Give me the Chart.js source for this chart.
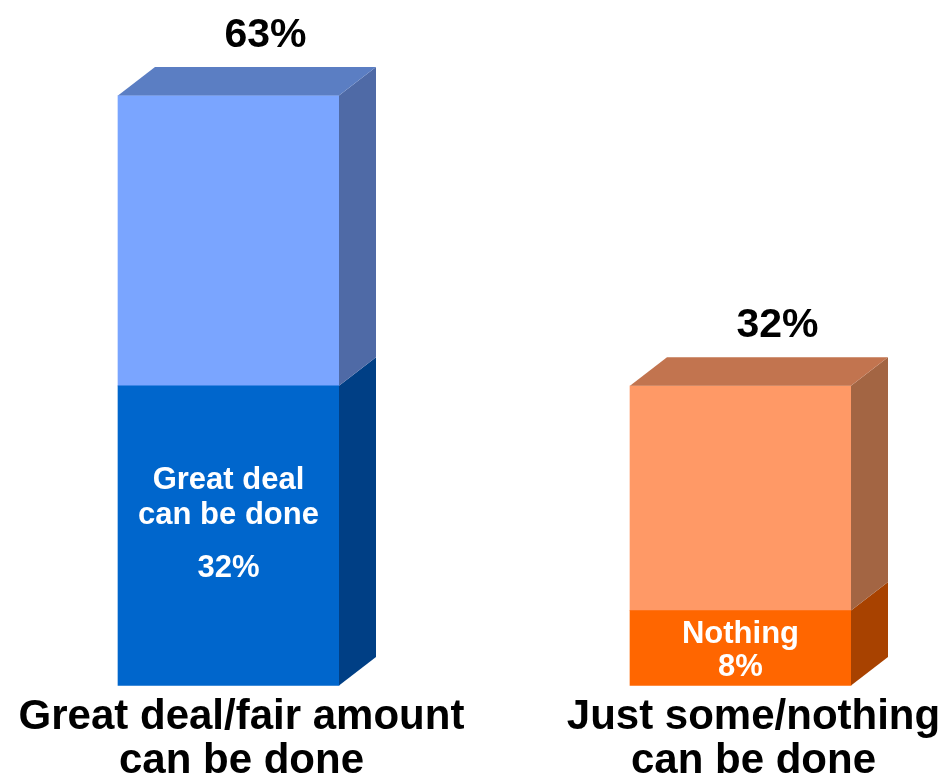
<!DOCTYPE html>
<html lang="en">
<head>
    <meta charset="UTF-8">
    <title>Can be done - 3D stacked bars</title>
    <script src="https://cdn.jsdelivr.net/npm/chart.js"></script>
    <style>
        body {
            margin: 0;
            padding: 0;
            background-color: #ffffff;
        }

        .chart-container {
            position: relative;
            width: 947px;
            height: 775px;
        }
    </style>
</head>
<body>

    <div class="chart-container">
        <canvas id="doneChart"></canvas>
    </div>

    <script>
        // Values (percent)
        const categories = [
            ['Great deal/fair amount', 'can be done'],
            ['Just some/nothing', 'can be done']
        ];
        const baseValues = [32, 8];      // Great deal / Nothing
        const upperValues = [31, 24];    // rest of each bar
        const baseNames = [['Great deal', 'can be done'], ['Nothing']];

        const totals = baseValues.map((v, i) => v + upperValues[i]);

        const FONT = "'Liberation Sans', Arial, sans-serif";
        const DX = 37, DY = 28.5;   // depth of the 3D bars

        // front / side / top colours per segment and bar
        const faces = [
            { front: ['#0066CC', '#FF6600'], side: ['#003F85', '#A84200'] },
            { front: ['#7AA5FF', '#FF9966'], side: ['#4F6AA6', '#A36543'], top: ['#5B7EC3', '#C2744F'] }
        ];

        const bar3d = {
            id: 'bar3d',
            afterDatasetsDraw(chart) {
                const ctx = chart.ctx;
                ctx.save();
                chart.data.datasets.forEach((ds, di) => {
                    const meta = chart.getDatasetMeta(di);
                    meta.data.forEach((bar, i) => {
                        const p = bar.getProps(['x', 'y', 'base', 'width'], true);
                        const left = p.x - p.width / 2;
                        const right = p.x + p.width / 2;
                        // side face
                        ctx.fillStyle = faces[di].side[i];
                        ctx.beginPath();
                        ctx.moveTo(right, p.base);
                        ctx.lineTo(right + DX, p.base - DY);
                        ctx.lineTo(right + DX, p.y - DY);
                        ctx.lineTo(right, p.y);
                        ctx.closePath();
                        ctx.fill();
                        // top face on the highest segment
                        if (faces[di].top) {
                            ctx.fillStyle = faces[di].top[i];
                            ctx.beginPath();
                            ctx.moveTo(left, p.y);
                            ctx.lineTo(left + DX, p.y - DY);
                            ctx.lineTo(right + DX, p.y - DY);
                            ctx.lineTo(right, p.y);
                            ctx.closePath();
                            ctx.fill();

                            // total above the bar
                            ctx.fillStyle = '#000000';
                            ctx.font = 'bold 41px ' + FONT;
                            ctx.textAlign = 'center';
                            ctx.textBaseline = 'alphabetic';
                            ctx.fillText(totals[i] + '%', p.x + DX, p.y - 49);
                        }
                    });
                });

                // labels inside the bottom segment
                const baseMeta = chart.getDatasetMeta(0);
                baseMeta.data.forEach((bar, i) => {
                    const p = bar.getProps(['x', 'y', 'base'], true);
                    const names = baseNames[i];
                    const lh = names.length > 1 ? 35 : 33;
                    const gap = names.length > 1 ? 18 : 0;
                    const cap = 22;
                    const blockH = cap + lh * names.length + gap;
                    const mid = (p.y + p.base) / 2 + (names.length > 1 ? -14 : 0);
                    const yb = mid - blockH / 2 + cap;
                    ctx.fillStyle = '#ffffff';
                    ctx.font = 'bold 31px ' + FONT;
                    ctx.textAlign = 'center';
                    ctx.textBaseline = 'alphabetic';
                    names.forEach((t, k) => {
                        ctx.fillText(t, p.x, yb + k * lh);
                    });
                    ctx.fillText(baseValues[i] + '%', p.x, yb + names.length * lh + gap);
                });
                ctx.restore();
            }
        };

        const ctx = document.getElementById('doneChart').getContext('2d');
        new Chart(ctx, {
            type: 'bar',
            data: {
                labels: categories,
                datasets: [
                    {
                        label: 'Base',
                        data: baseValues,
                        backgroundColor: faces[0].front,
                        borderWidth: 0,
                        barThickness: 221,
                        clip: false
                    },
                    {
                        label: 'Upper',
                        data: upperValues,
                        backgroundColor: faces[1].front,
                        borderWidth: 0,
                        barThickness: 221,
                        clip: false
                    }
                ]
            },
            options: {
                responsive: true,
                maintainAspectRatio: false,
                animation: false,
                layout: {
                    padding: { left: 228.5, right: 206.5, top: 30, bottom: 0 }
                },
                scales: {
                    x: {
                        stacked: true,
                        offset: false,
                        grid: { display: false, drawTicks: false },
                        border: { display: false },
                        afterFit(scale) {
                            // keep the plot area where layout.padding puts it,
                            // and let the second label line run to the very bottom
                            scale.paddingLeft = 0;
                            scale.paddingRight = 0;
                            scale.height = 89.5;
                        },
                        ticks: {
                            autoSkip: false,
                            maxRotation: 0,
                            minRotation: 0,
                            padding: 9.5,
                            labelOffset: 13,
                            color: '#000000',
                            font: { family: FONT, size: 42, weight: 'bold', lineHeight: 44 / 42 }
                        }
                    },
                    y: {
                        stacked: true,
                        display: false,
                        min: 0,
                        max: 70
                    }
                },
                plugins: {
                    legend: { display: false },
                    tooltip: { enabled: false }
                }
            },
            plugins: [bar3d]
        });
    </script>

</body>
</html>
